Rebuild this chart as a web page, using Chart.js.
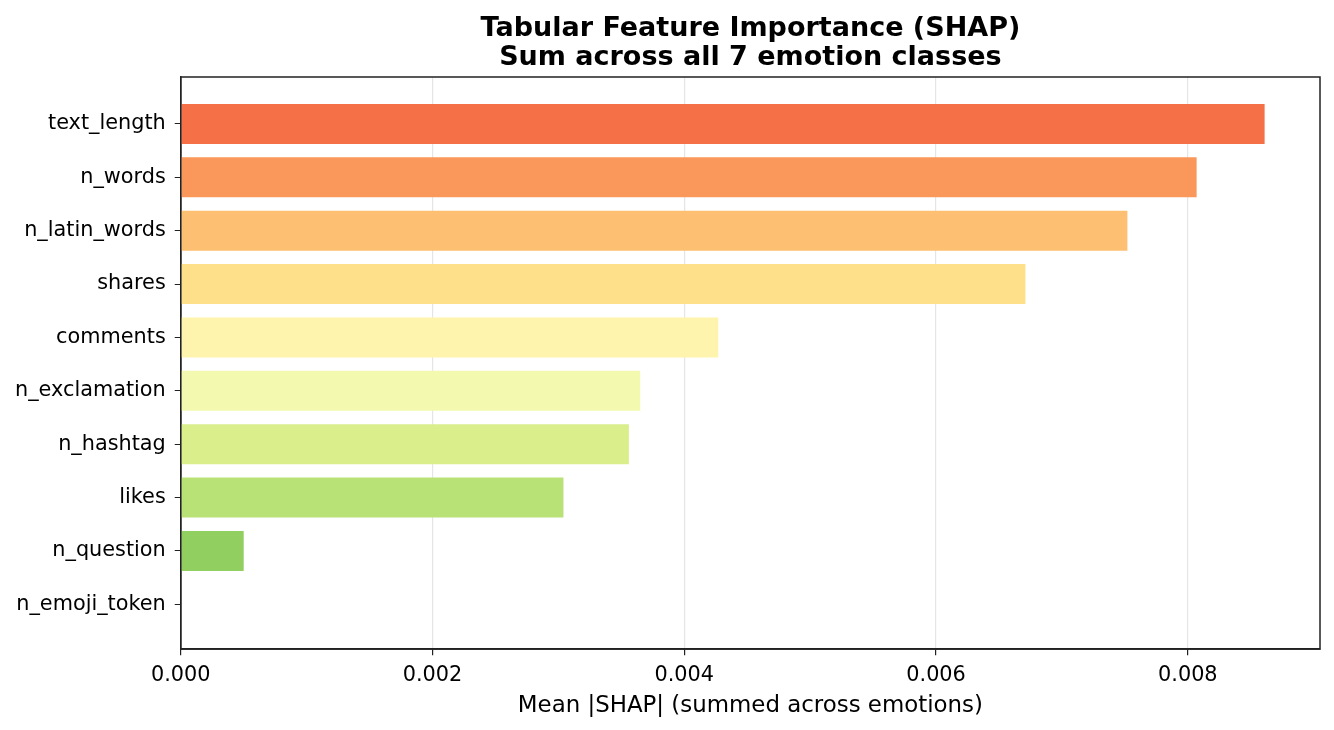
<!DOCTYPE html>
<html>
<head>
<meta charset="utf-8">
<script src="https://cdn.jsdelivr.net/npm/chart.js@4.4.0/dist/chart.umd.min.js"></script>
<style>
  html, body { margin: 0; padding: 0; background: #fff; }
  #wrap { width: 1334px; height: 730px; }
</style>
</head>
<body>
<div id="wrap"><canvas id="shap"></canvas></div>
<script>
const features = [
  "text_length", "n_words", "n_latin_words", "shares", "comments",
  "n_exclamation", "n_hashtag", "likes", "n_question", "n_emoji_token"
];
const shapValues = [
  0.00861, 0.00807, 0.00752, 0.00671, 0.00427,
  0.00365, 0.00356, 0.00304, 0.00050, 0.0
];
const barColors = [
  "#f57046", "#f9985a", "#fdbf71", "#fee08b", "#fff4ae",
  "#f3faaf", "#daee8b", "#b8e176", "#91cf60", "#66bd63"
];
const xTicks = [0, 0.002, 0.004, 0.006, 0.008];
const titleLines = ["Tabular Feature Importance (SHAP)", "Sum across all 7 emotion classes"];

const FONT = "'DejaVu Sans', sans-serif";

// top + right spines, and the title centred over the axes (like matplotlib)
const frame = {
  id: "frame",
  afterDraw(chart) {
    const { ctx, chartArea: a } = chart;
    ctx.save();
    ctx.strokeStyle = "#222";
    ctx.lineWidth = 1.5;
    ctx.strokeRect(a.left, a.top, a.right - a.left, a.bottom - a.top);

    ctx.fillStyle = "#000";
    ctx.font = "bold 27px " + FONT;
    ctx.textAlign = "center";
    ctx.textBaseline = "alphabetic";
    const cx = (a.left + a.right) / 2;
    titleLines.forEach((line, i) => {
      ctx.fillText(line, cx, 36 + i * 28.5);
    });
    ctx.restore();
  }
};

const ctx = document.getElementById("shap").getContext("2d");
const shapChart = new Chart(ctx, {
  type: "bar",
  data: {
    datasets: [
      {
        label: "Mean |SHAP|",
        data: features.map((f, i) => ({ x: shapValues[i], y: i })),
        backgroundColor: barColors,
        borderWidth: 0,
        categoryPercentage: 1.0,
        barPercentage: 0.75,
      },
    ],
  },
  options: {
    indexAxis: "y",
    responsive: true,
    maintainAspectRatio: false,
    animation: false,
    layout: { padding: { left: 6, right: 14, top: 77, bottom: 13 } },
    plugins: {
      legend: { display: false },
      tooltip: { enabled: false },
      title: { display: false },
    },
    scales: {
      x: {
        type: "linear",
        min: 0,
        max: 0.00905,
        afterBuildTicks: (scale) => {
          scale.ticks = xTicks.map((v) => ({ value: v }));
        },
        ticks: {
          color: "#000",
          font: { family: FONT, size: 20.8 },
          padding: 8,
          maxRotation: 0,
          callback: (v) => Number(v).toFixed(3),
        },
        grid: {
          color: "rgba(0,0,0,0.1)",
          lineWidth: 1.2,
          tickColor: "#222",
          tickLength: 6,
        },
        border: { color: "#222", width: 1.5 },
        title: {
          display: true,
          text: "Mean |SHAP| (summed across emotions)",
          color: "#000",
          font: { family: FONT, size: 22.9, lineHeight: 1.0 },
          padding: { top: -2, bottom: 0 },
        },
      },
      y: {
        type: "linear",
        reverse: true,
        offset: false,
        min: -0.88,
        max: 9.84,
        afterBuildTicks: (scale) => {
          scale.ticks = features.map((f, i) => ({ value: i }));
        },
        ticks: {
          color: "#000",
          font: { family: FONT, size: 20.8 },
          padding: 9,
          autoSkip: false,
          callback: (v) => features[v],
        },
        grid: {
          offset: false,
          drawOnChartArea: false,
          tickColor: "#222",
          tickLength: 6,
        },
        border: { color: "#222", width: 1.5 },
      },
    },
  },
  plugins: [frame],
});
</script>
</body>
</html>
